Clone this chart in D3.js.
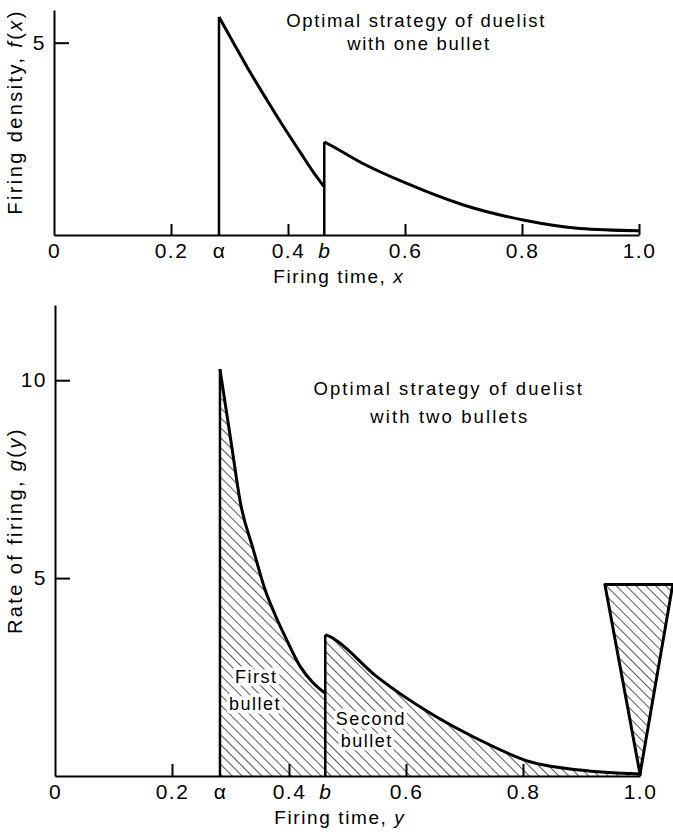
<!DOCTYPE html>
<meta charset="utf-8">
<style>
  body { margin: 0; background: #fff; }
  svg text { font-family: "Liberation Sans", Arial, sans-serif; fill: #000; }
  .tick text { font-size: 21px; letter-spacing: 1.5px; }
  .title { font-size: 18.5px; letter-spacing: 1.7px; }
  .title.wide { letter-spacing: 2.1px; }
  .label { font-size: 20px; letter-spacing: 2.4px; }
  .xlabel { font-size: 19px; letter-spacing: 1.6px; }
  .note { font-size: 18px; letter-spacing: 1.5px; stroke: #fff; stroke-width: 7px; paint-order: stroke; stroke-linejoin: round; }
  .curve { fill: none; stroke: #000; stroke-width: 3px; stroke-linejoin: round; }
  .edge { fill: none; stroke: #000; stroke-width: 2.5px; }
</style>
<script src="https://d3js.org/d3.v7.min.js"></script>
<svg id="chart" width="673" height="836"></svg>
<script>

	// break points on the time axis
	var alpha = 0.282, b = 0.462;

	var xTickVals = [0.2, 0.4, 0.6, 0.8, 1.0];
	var xLabelVals = [0, 0.2, alpha, 0.4, b, 0.6, 0.8, 1.0];
	var xLabels = ["0", "0.2", "α", "0.4", "b", "0.6", "0.8", "1.0"];

	// duelist with one bullet, f(x)
	var oneX1 = [0.282, 0.306, 0.335, 0.364, 0.393, 0.4205, 0.443, 0.462];
	var oneY1 = [5.67, 5.02, 4.24, 3.51, 2.80, 2.16, 1.64, 1.25];
	var oneX2 = [0.462, 0.472, 0.528, 0.603, 0.70, 0.802, 0.899, 1.0];
	var oneY2 = [2.42, 2.34, 1.86, 1.34, 0.78, 0.39, 0.17, 0.11];

	// duelist with two bullets, g(y)
	var firstX = [0.282, 0.302, 0.317, 0.339, 0.359, 0.376, 0.396, 0.419, 0.4415, 0.462];
	var firstY = [10.28, 8.34, 6.9, 5.72, 4.71, 4.08, 3.44, 2.77, 2.35, 2.09];
	var secondX = [0.462, 0.470, 0.550, 0.641, 0.726, 0.812, 0.897, 1.0];
	var secondY = [3.57, 3.52, 2.51, 1.59, 0.91, 0.36, 0.15, 0.05];
	var spikeX = [0.94, 1.0, 1.056];
	var spikeY = [4.84, 0.05, 4.84];

	function pts(xs, ys) { return xs.map(function(d, i) { return [d, ys[i]]; }); }

	var svg = d3.select("#chart");

	svg.append("defs").append("pattern")
		.attr("id", "hatch")
		.attr("patternUnits", "userSpaceOnUse")
		.attr("width", 7).attr("height", 7)
		.attr("patternTransform", "rotate(-45)")
		.append("line")
		.attr("x1", 0).attr("y1", 0).attr("x2", 0).attr("y2", 7)
		.attr("stroke", "#000").attr("stroke-width", 1.3);

	function drawAxes(g, x, y, yTicks, tickLen) {
		g.append("g")
			.attr("transform", "translate(0," + y(0) + ")")
			.call(d3.axisBottom(x).tickValues(xTickVals).tickSize(-tickLen).tickSizeOuter(0).tickFormat(""))
			.call(function(a) { a.selectAll("path,line").attr("stroke", "#000").attr("stroke-width", 2); });

		var lab = g.append("g")
			.attr("transform", "translate(0," + y(0) + ")")
			.call(d3.axisBottom(x).tickValues(xLabelVals).tickSize(0).tickPadding(8)
				.tickFormat(function(d, i) { return xLabels[i]; }));
		lab.select(".domain").remove();
		lab.selectAll("text").attr("font-size", null).attr("font-family", null)
			.style("font-style", function(d, i) { return xLabels[i] === "b" ? "italic" : null; });

		var ya = g.append("g")
			.attr("transform", "translate(" + x(0) + ",0)")
			.call(d3.axisLeft(y).tickValues(yTicks).tickSize(-15).tickSizeOuter(0).tickPadding(8)
				.tickFormat(d3.format("d")));
		ya.selectAll("path,line").attr("stroke", "#000").attr("stroke-width", 2);
		ya.selectAll("text").attr("font-size", null).attr("font-family", null);
	}

	// ---------- top chart ----------
	var x1 = d3.scaleLinear().domain([0, 1]).range([54, 639]);
	var y1 = d3.scaleLinear().domain([0, 5.85]).range([235, 10]);
	var topG = svg.append("g");
	drawAxes(topG, x1, y1, [5], 11);

	var line1 = d3.line().x(function(d) { return x1(d[0]); }).y(function(d) { return y1(d[1]); });
	topG.append("path").attr("class", "edge").attr("d", line1([[alpha, 0], [alpha, oneY1[0]]]));
	topG.append("path").attr("class", "edge").attr("d", line1([[b, 0], [b, oneY2[0]]]));
	line1.curve(d3.curveMonotoneX);
	topG.append("path").attr("class", "curve").attr("d", line1(pts(oneX1, oneY1)));
	topG.append("path").attr("class", "curve").attr("d", line1(pts(oneX2, oneY2)));

	topG.append("text").attr("class", "title").attr("text-anchor", "middle")
		.attr("x", x1(0.619)).attr("y", y1(5.41)).text("Optimal strategy of duelist");
	topG.append("text").attr("class", "title").attr("text-anchor", "middle")
		.attr("x", x1(0.624)).attr("y", y1(4.81)).text("with one bullet");

	var xl1 = topG.append("text").attr("class", "xlabel").attr("text-anchor", "middle")
		.attr("x", x1(0.487)).attr("y", 283);
	xl1.append("tspan").text("Firing time, ");
	xl1.append("tspan").style("font-style", "italic").text("x");

	var yl1 = topG.append("text").attr("class", "label").attr("text-anchor", "middle")
		.attr("transform", "translate(22," + y1(3.2) + ") rotate(-90)");
	yl1.append("tspan").text("Firing density, ");
	yl1.append("tspan").style("font-style", "italic").text("f");
	yl1.append("tspan").text("(");
	yl1.append("tspan").style("font-style", "italic").text("x");
	yl1.append("tspan").text(")");

	// ---------- bottom chart ----------
	var x2 = d3.scaleLinear().domain([0, 1]).range([55, 640]);
	var y2 = d3.scaleLinear().domain([0, 11.9]).range([776, 305]);
	var botG = svg.append("g");

	var area2 = d3.area().x(function(d) { return x2(d[0]); }).y0(y2(0)).y1(function(d) { return y2(d[1]); })
		.curve(d3.curveMonotoneX);
	botG.append("path").attr("fill", "url(#hatch)").attr("d", area2(pts(firstX, firstY)));
	botG.append("path").attr("fill", "url(#hatch)").attr("d", area2(pts(secondX, secondY)));

	var line2 = d3.line().x(function(d) { return x2(d[0]); }).y(function(d) { return y2(d[1]); });
	botG.append("path").attr("class", "curve")
		.style("fill", "url(#hatch)")
		.attr("d", line2(pts(spikeX, spikeY)) + "Z");

	drawAxes(botG, x2, y2, [5, 10], 12);

	botG.append("path").attr("class", "edge").attr("d", line2([[alpha, 0], [alpha, firstY[0]]]));
	botG.append("path").attr("class", "edge").attr("d", line2([[b, 0], [b, secondY[0]]]));
	line2.curve(d3.curveMonotoneX);
	botG.append("path").attr("class", "curve").attr("d", line2(pts(firstX, firstY)));
	botG.append("path").attr("class", "curve").attr("d", line2(pts(secondX, secondY)));

	botG.append("text").attr("class", "note").attr("text-anchor", "middle")
		.attr("x", x2(0.344)).attr("y", y2(2.35)).text("First");
	botG.append("text").attr("class", "note").attr("text-anchor", "middle")
		.attr("x", x2(0.342)).attr("y", y2(1.67)).text("bullet");
	botG.append("text").attr("class", "note").attr("text-anchor", "middle")
		.attr("x", x2(0.54)).attr("y", y2(1.29)).text("Second");
	botG.append("text").attr("class", "note").attr("text-anchor", "middle")
		.attr("x", x2(0.533)).attr("y", y2(0.73)).text("bullet");

	botG.append("text").attr("class", "title wide").attr("text-anchor", "middle")
		.attr("x", x2(0.673)).attr("y", y2(9.63)).text("Optimal strategy of duelist");
	botG.append("text").attr("class", "title wide").attr("text-anchor", "middle")
		.attr("x", x2(0.675)).attr("y", y2(8.92)).text("with two bullets");

	var xl2 = botG.append("text").attr("class", "xlabel").attr("text-anchor", "middle")
		.attr("x", x2(0.487)).attr("y", 824);
	xl2.append("tspan").text("Firing time, ");
	xl2.append("tspan").style("font-style", "italic").text("y");

	var yl2 = botG.append("text").attr("class", "label").attr("text-anchor", "middle")
		.attr("transform", "translate(22," + y2(6.2) + ") rotate(-90)");
	yl2.append("tspan").text("Rate of firing, ");
	yl2.append("tspan").style("font-style", "italic").text("g");
	yl2.append("tspan").text("(");
	yl2.append("tspan").style("font-style", "italic").text("y");
	yl2.append("tspan").text(")");

</script>
